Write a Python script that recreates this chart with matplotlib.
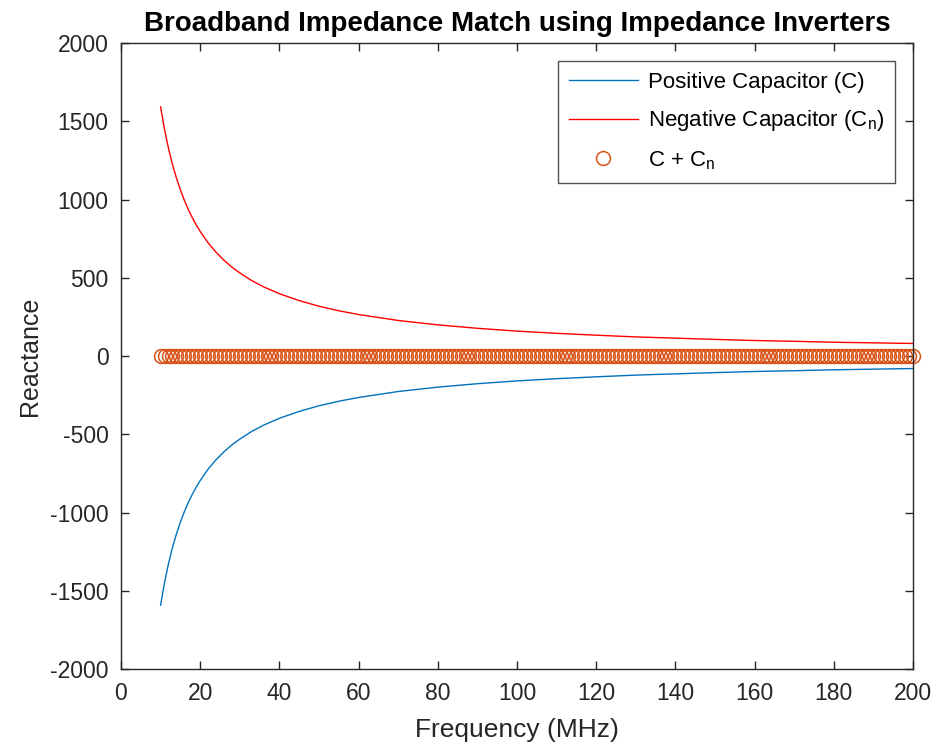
import matplotlib
matplotlib.use('Agg')
import matplotlib.pyplot as plt

plt.rcParams['font.family'] = ['Liberation Sans', 'DejaVu Sans']
plt.rcParams['mathtext.fontset'] = 'custom'
plt.rcParams['mathtext.rm'] = 'Liberation Sans'
plt.rcParams['axes.unicode_minus'] = False

# frequency samples (MHz) and reactance
freq = [10, 11, 12, 13, 14, 15, 16, 17, 18, 19, 20, 22, 24, 26, 28, 30, 33, 36,
        40, 45, 50, 55, 60, 70, 80, 90, 100, 110, 120, 130, 140, 150, 160, 170,
        180, 190, 200]
neg_cap = [1592, 1447, 1326, 1224, 1137, 1061, 995, 936, 884, 838, 796, 723,
           663, 612, 568, 531, 482, 442, 398, 354, 318, 289, 265, 227, 199, 177,
           159, 145, 133, 122, 114, 106, 99, 94, 88, 84, 80]
pos_cap = [-v for v in neg_cap]

# C + Cn sampled every 1 MHz
freq_sum = list(range(10, 201))
sum_cap = [0] * len(freq_sum)

fig = plt.figure(figsize=(9.35, 7.44), dpi=100)
ax = fig.add_axes([0.1294, 0.1008, 0.8471, 0.8414])

ax.plot(freq, pos_cap, color='#0072BD', lw=1, label='Positive Capacitor (C)')
ax.plot(freq, neg_cap, color='#FF0000', lw=1, label='Negative Capacitor (C$_\\mathregular{n}$)')
ax.plot(freq_sum, sum_cap, 'o', color='#D95319', mfc='none', ms=10, mew=1.1,
        ls='none', clip_on=False, label='C + C$_\\mathregular{n}$')

ax.set_xlim(0, 200)
ax.set_ylim(-2000, 2000)
ax.set_xticks(range(0, 201, 20))
ax.set_yticks(range(-2000, 2001, 500))
ax.tick_params(direction='in', length=6, width=1, labelsize=16.5,
               colors='#262626', top=True, right=True, pad=9)
for s in ax.spines.values():
    s.set_color('#262626')
    s.set_linewidth(1)

ax.set_xlabel('Frequency (MHz)', fontsize=19, color='#262626', labelpad=10)
ax.set_ylabel('Reactance', fontsize=18, color='#262626', labelpad=6)
ax.set_title('Broadband Impedance Match using Impedance Inverters',
             fontsize=20, fontweight='bold', pad=9)

leg = ax.legend(loc='upper right', fontsize=16, fancybox=False,
                edgecolor='#262626', borderaxespad=0.8, handlelength=3.1,
                labelspacing=0.7, borderpad=0.5, handletextpad=0.45)
leg.get_frame().set_linewidth(1)

fig.savefig('out.png', dpi=100)
